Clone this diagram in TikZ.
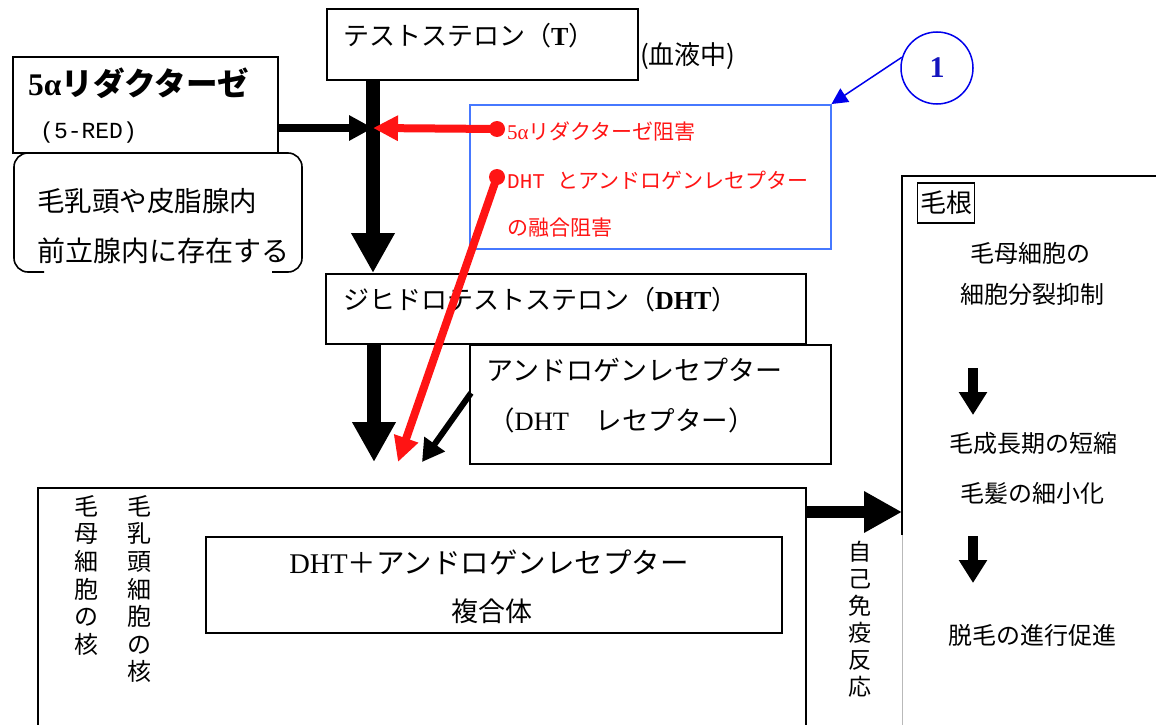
\documentclass[tikz,border=0pt]{standalone}
\usepackage{fontspec}
\setmainfont{Liberation Serif}
\newfontfamily\jp{Noto Sans CJK JP}
\newfontfamily\monofnt{Liberation Mono}
\usetikzlibrary{arrows.meta}
\definecolor{frameblue}{RGB}{70,120,255}
\definecolor{circblue}{RGB}{0,0,235}
\definecolor{numblue}{RGB}{20,20,190}
\definecolor{inhred}{RGB}{255,20,20}
\newcommand\sz[1]{\fontsize{#1}{#1}\selectfont}
\begin{document}
\begin{tikzpicture}[x=1pt,y=-1pt,
  box/.style={draw, line width=1.6pt, inner sep=0pt, anchor=north west},
  txt/.style={inner sep=0pt, anchor=west},
  ctxt/.style={inner sep=0pt, anchor=center},
  vtxt/.style={inner sep=0pt, anchor=north, align=center, font=\jp\fontsize{24}{27.6}\selectfont},
  bigarrow/.style={line width=14pt, -{Triangle[length=40pt,width=41pt]}},
  sidearrow/.style={line width=12pt, -{Triangle[length=38pt,width=39pt]}},
  medarrow/.style={line width=8pt, -{Triangle[length=24pt,width=24pt]}},
  redarrow/.style={draw=inhred, line width=8pt, -{Triangle[length=25pt,width=24pt]}},
  diagarrow/.style={line width=6pt, -{Triangle[length=22pt,width=24pt]}},
  smallarrow/.style={line width=10pt, -{Triangle[length=23pt,width=27pt]}},
  bluearrow/.style={draw=circblue, line width=1.5pt, -{Triangle[length=16pt,width=16pt]}},
  reddot/.style={circle, fill=inhred, minimum size=16pt, inner sep=0pt},
]
\useasboundingbox (0,0) rectangle (1156,725);

% ---- boxes ----
\node[box, minimum width=311pt, minimum height=71pt] (T) at (326,8) {};
\node[txt, font=\sz{26}] (Ttext) at (343,36) {{\jp テストステロン（}\textbf{T}{\jp ）}};
\node[txt, font=\jp\sz{26}] (blood) at (640,56) {(血液中)};

\node[box, minimum width=265pt, minimum height=96pt] (RED) at (12,56) {};
\node[txt, font=\bfseries\sz{31.5}] (REDtext) at (28,83) {5α{\jp リダクターゼ}};
\node[txt, font=\monofnt\sz{23}] (REDabbr) at (40,133) {(5-RED)};

\draw[line width=1.6pt, rounded corners=14pt] (44,153) -- (14,153) -- (14,272) -- (44,272);
\draw[line width=1.6pt, rounded corners=14pt] (272,153) -- (302,153) -- (302,272) -- (272,272);
\node[txt, font=\jp\sz{27.5}] (loc1) at (37,201) {毛乳頭や皮脂腺内};
\node[txt, font=\jp\sz{28}] (loc2) at (37,251) {前立腺内に存在する};

\node[box, draw=frameblue, line width=1.5pt, minimum width=361pt, minimum height=144pt] (blue) at (469,104) {};
\node[txt, font=\sz{21}, text=inhred] (inh1) at (507,131) {5α{\jp リダクターゼ阻害}};
\node[txt, font=\sz{21}, text=inhred] (inh2) at (507,180) {{\monofnt DHT }{\jp とアンドロゲンレセプター}};
\node[txt, font=\jp\sz{21}, text=inhred] (inh3) at (507,228) {の融合阻害};

\node[circle, draw=circblue, line width=1.5pt, minimum size=72pt, inner sep=0pt, text=numblue, font=\bfseries\sz{30}] (one) at (937,68) {1};

\node[box, minimum width=480pt, minimum height=70pt] (DHT) at (325,273) {};
\node[txt, font=\sz{26}] (DHTtext) at (343,300) {{\jp ジヒドロテストステロン（}\textbf{DHT}{\jp ）}};

\node[box, minimum width=361pt, minimum height=119pt] (AR) at (469,344) {};
\node[txt, font=\jp\sz{27}] (ARtext1) at (486,370) {アンドロゲンレセプター};
\node[txt, font=\sz{26.5}] (ARtext2) at (488,420) {{\jp （}DHT{\jp 　レセプター）}};

\node[box, minimum width=768pt, minimum height=270pt] (nucleus) at (37,487) {};
\node[vtxt] (col1) at (86,495) {毛\\母\\細\\胞\\の\\核};
\node[vtxt] (col2) at (139,495) {毛\\乳\\頭\\細\\胞\\の\\核};
\node[box, minimum width=576pt, minimum height=96pt] (complex) at (205,536) {};
\node[ctxt, font=\sz{28.5}] (cx1) at (489,562) {DHT{\jp ＋アンドロゲンレセプター}};
\node[ctxt, font=\jp\sz{27}] (cx2) at (492,611) {複合体};
\node[vtxt, font=\jp\fontsize{23}{27}\selectfont] (auto) at (860,541) {自\\己\\免\\疫\\反\\応};

% ---- hair root panel ----
\coordinate (rootTL) at (902,176);
\draw[line width=1.6pt] (902,535) -- (rootTL) -- (1160,176);
\draw[line width=1pt, gray!55] (902,535) -- (902,730);
\node[draw, line width=1.4pt, inner sep=0pt, minimum width=57pt, minimum height=40pt, font=\jp\sz{26}] (kegen) at (946,203) {毛根};
\node[ctxt, font=\jp\sz{24}] (r1) at (1030,253) {毛母細胞の};
\node[ctxt, font=\jp\sz{24}] (r2) at (1032,294) {細胞分裂抑制};
\node[ctxt, font=\jp\sz{24}] (r3) at (1033,443) {毛成長期の短縮};
\node[ctxt, font=\jp\sz{24}] (r4) at (1032,493) {毛髪の細小化};
\node[ctxt, font=\jp\sz{24}] (r5) at (1032,635) {脱毛の進行促進};

% ---- connectors ----
\coordinate (colA) at (373,0);
\coordinate (junction) at (373,128);
\coordinate (tipA) at (374,462);
\coordinate (tipR) at (398,462);
\coordinate (arStart) at (471,393);
\coordinate (tipB) at (422,462);
\coordinate (ybig) at (0,512);
\coordinate (a1s) at (973,368);
\coordinate (a1e) at (973,415);
\coordinate (a2s) at (973,536);
\coordinate (a2e) at (973,583);

\draw[bigarrow] (T.south -| colA) -- (DHT.north -| colA);
\draw[medarrow] (RED.east |- junction) -- (junction);
\node[reddot] (dot1) at (497,129) {};
\node[reddot] (dot2) at (497,177) {};
\draw[redarrow] (dot1.center) -- (junction);
\draw[redarrow] (dot2.center) -- (tipR);
\draw[bigarrow] (DHT.south -| tipA) -- (tipA);
\draw[diagarrow] (arStart) -- (tipB);
\draw[sidearrow] (nucleus.east |- ybig) -- (rootTL |- ybig);
\draw[smallarrow] (a1s) -- (a1e);
\draw[smallarrow] (a2s) -- (a2e);
\draw[bluearrow] (one.163) -- (blue.north east);
\end{tikzpicture}
\end{document}
